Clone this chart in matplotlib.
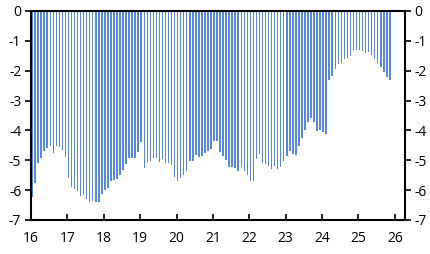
import numpy as np
import matplotlib
matplotlib.use("Agg")
import matplotlib.pyplot as plt

# monthly values, Jan 2016 .. Nov 2025
y2016 = [-6.22, -5.77, -5.10, -4.93, -4.68, -4.60, -4.52, -4.75, -4.52, -4.57, -4.65, -4.88]
y2017 = [-5.60, -5.90, -5.97, -6.02, -6.20, -6.15, -6.31, -6.39, -6.35, -6.41, -6.39, -6.13]
y2018 = [-6.00, -5.92, -5.68, -5.66, -5.64, -5.49, -5.32, -5.13, -4.92, -4.92, -4.92, -4.71]
y2019 = [-4.38, -5.27, -5.06, -5.01, -4.94, -4.94, -5.06, -4.97, -5.10, -5.10, -5.15, -5.55]
y2020 = [-5.70, -5.59, -5.50, -5.37, -5.04, -5.01, -4.81, -4.88, -4.84, -4.77, -4.68, -4.61]
y2021 = [-4.36, -4.36, -4.72, -4.84, -4.99, -5.21, -5.23, -5.26, -5.35, -5.23, -5.37, -5.50]
y2022 = [-5.70, -5.68, -4.97, -4.80, -5.08, -5.13, -5.18, -5.30, -5.18, -5.30, -5.24, -5.02]
y2023 = [-4.86, -4.68, -4.79, -4.82, -4.52, -4.26, -3.99, -3.71, -3.59, -3.73, -4.02, -3.99]
y2024 = [-4.04, -4.13, -2.31, -2.18, -1.93, -1.77, -1.75, -1.62, -1.58, -1.52, -1.31, -1.29]
y2025 = [-1.31, -1.34, -1.41, -1.37, -1.46, -1.61, -1.75, -1.88, -2.04, -2.20, -2.31]

values = y2016 + y2017 + y2018 + y2019 + y2020 + y2021 + y2022 + y2023 + y2024 + y2025
start_year = 16
years = list(range(16, 27))
yticks = list(range(-7, 1))

plt.rcParams['font.family'] = ['Open Sans', 'DejaVu Sans']
plt.rcParams['axes.unicode_minus'] = False

fig = plt.figure(figsize=(4.31, 2.54), dpi=100)
ax = fig.add_axes([31 / 431, 1 - 220 / 254, 374 / 431, 209 / 254])

t = start_year + np.arange(len(values)) / 12 + 0.03
ax.bar(t, values, width=0.042, color='#5a88d8', linewidth=0)

ax.set_xlim(16, 26.28)
ax.set_ylim(-7, 0)
ax.set_xticks(years)
ax.set_xticklabels([str(y) for y in years])
ax.set_yticks(yticks)
ax.set_yticklabels([str(v) for v in yticks])

for s in ax.spines.values():
    s.set_linewidth(1.5)
    s.set_color('black')

ax.tick_params(axis='x', direction='in', length=4, width=1.2, labelsize=10, pad=8)
ax.tick_params(axis='y', direction='out', length=4, width=1.2, labelsize=10,
               left=True, right=True, labelleft=True, labelright=True, pad=3)

fig.savefig("out.png", dpi=100)
